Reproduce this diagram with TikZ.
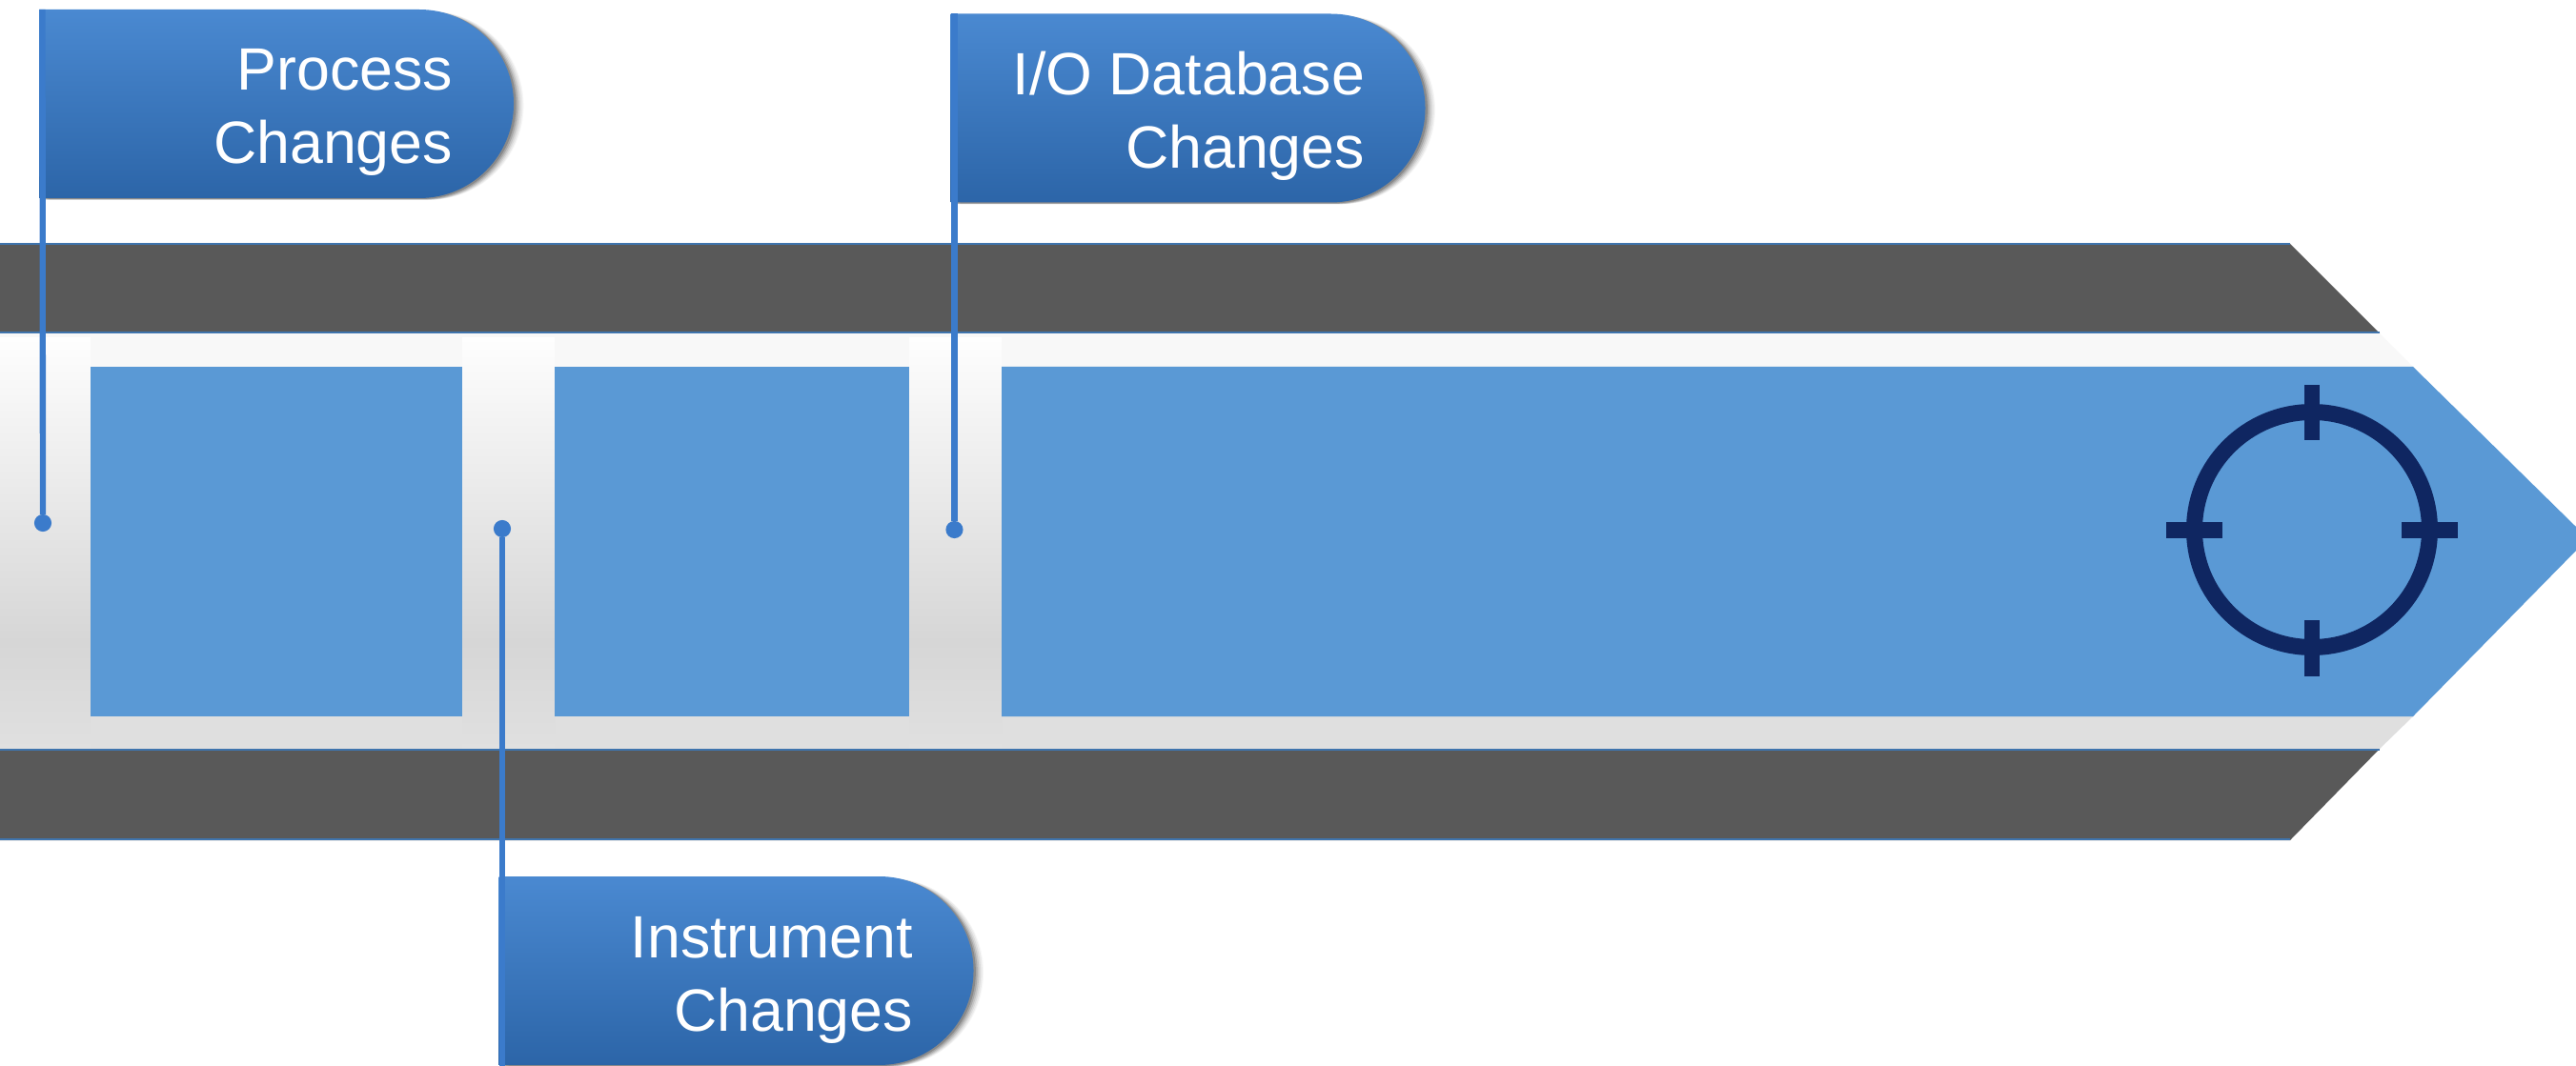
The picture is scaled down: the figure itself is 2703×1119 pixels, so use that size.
\documentclass[tikz,border=0pt]{standalone}
\usepackage{fontspec}
\setmainfont{Liberation Sans}
\usetikzlibrary{shapes.misc,shadows}
\definecolor{darkband}{HTML}{595959}
\definecolor{edgeblue}{HTML}{3F74AD}
\definecolor{panelblue}{HTML}{5A99D5}
\definecolor{stemblue}{HTML}{3B7BCB}
\definecolor{navy}{HTML}{0F2661}
\definecolor{flagtop}{HTML}{4A89D1}
\definecolor{flagbot}{HTML}{2C65A8}
\definecolor{gapa}{HTML}{E0E0E0}
\definecolor{gapb}{HTML}{D6D6D6}
\definecolor{gapc}{HTML}{FEFEFE}
\definecolor{banda}{HTML}{DFDFDF}
\definecolor{bandb}{HTML}{F8F8F8}
\pgfdeclareverticalshading{gapshade}{100bp}{color(0bp)=(gapa); color(25bp)=(gapa); color(38bp)=(gapb); color(75bp)=(gapc); color(100bp)=(gapc)}
\pgfdeclareverticalshading{bandshade}{100bp}{color(0bp)=(banda); color(29bp)=(banda); color(71bp)=(bandb); color(100bp)=(bandb)}
\tikzset{
  flag/.style={rounded rectangle, rounded rectangle west arc=none, minimum width=425.1pt, minimum height=169pt, inner sep=0pt, outer sep=0pt, anchor=north west, top color=flagtop, bottom color=flagbot,
    general shadow={shadow xshift=9pt,shadow yshift=-1.5pt,fill=black,opacity=.03},
    general shadow={shadow xshift=8pt,shadow yshift=-1.5pt,fill=black,opacity=.05},
    general shadow={shadow xshift=6.5pt,shadow yshift=-1.5pt,fill=black,opacity=.07},
    general shadow={shadow xshift=5pt,shadow yshift=-1.5pt,fill=black,opacity=.10},
    general shadow={shadow xshift=3.5pt,shadow yshift=-1.2pt,fill=black,opacity=.14},
    general shadow={shadow xshift=2pt,shadow yshift=-.8pt,fill=black,opacity=.18}},
  flagtext/.style={text=white, align=right, anchor=east, inner sep=0pt, outer sep=0pt, font=\fontsize{53.5pt}{65.5pt}\selectfont},
  dot/.style={circle, fill=stemblue, minimum size=15.5pt, inner sep=0pt, outer sep=0pt},
  stem/.style={draw=stemblue, line width=5.4pt},
  edge line/.style={draw=edgeblue, line width=2.2pt},
  tick mark/.style={fill=navy}
}
\begin{document}
\begin{tikzpicture}[x=0.3mm,y=-0.3mm]
\useasboundingbox (0,0) rectangle (2703,1119);
% dark band
\fill[darkband] (0,256) -- (2403,256) -- (2497,350) -- (0,350) -- cycle;
\fill[darkband] (0,786) -- (2497,786) -- (2403,882) -- (0,882) -- cycle;
% light band
\shade[shading=bandshade] (0,350) -- (2497,350) -- (2532,385) -- (2532,752) -- (2497,786) -- (0,786) -- cycle;
% gaps
\shade[shading=gapshade] (0,355) rectangle (95,786);
\shade[shading=gapshade] (485,355) rectangle (582,786);
\shade[shading=gapshade] (954,355) rectangle (1051,786);
% band edges
\draw[edge line] (0,256) -- (2403,256);
\draw[edge line] (0,349) -- (2497,349);
\draw[edge line] (0,787) -- (2497,787);
\draw[edge line] (0,881) -- (2403,881);
% panels
\fill[panelblue] (95,385) rectangle (485,752);
\fill[panelblue] (582,385) rectangle (954,752);
\fill[panelblue] (1051,385) -- (2532,385) -- (2703,553) -- (2703,578) -- (2532,752) -- (1051,752) -- cycle;
% target
\draw[navy, line width=14.5pt] (2426,556) circle (123.5);
\fill[tick mark] (2418,404) rectangle (2434,462);
\fill[tick mark] (2418,651) rectangle (2434,710);
\fill[tick mark] (2273,548) rectangle (2332,565);
\fill[tick mark] (2520,548) rectangle (2579,565);
% flags
\node[flag] (f1) at (41,10) {};
\node[flag] (f2) at (523.5,920) {};
\node[flag] (f3) at (997.5,14.5) {};
\node[flagtext] (t1) at (475,118) {Process\\Changes};
\node[flagtext] (t2) at (958,1029) {Instrument\\Changes};
\node[flagtext] (t3) at (1432,122) {I/O Database\\Changes};
% connectors
\node[dot] (d1) at (45,549) {};
\node[dot] (d2) at (527,555) {};
\node[dot] (d3) at (1001.5,556) {};
\coordinate (s1) at (44.5,10);
\coordinate (s2) at (527,1119);
\coordinate (s3) at (1001.5,14.5);
\draw[stem] (s1) -- (d1);
\draw[stem] (s2) -- (d2);
\draw[stem] (s3) -- (d3);
\end{tikzpicture}
\end{document}
